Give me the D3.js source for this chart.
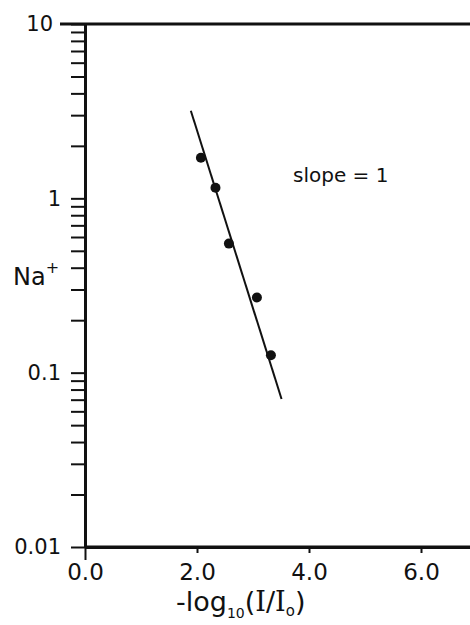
<!DOCTYPE html>
<html lang="en">
<head>
<meta charset="utf-8"/>
<title>Na+ vs -log10(I/Io)</title>
<script src="https://d3js.org/d3.v7.min.js"></script>
<style>
body { margin: 0; background: #fff; }
svg text { font-family: "DejaVu Sans", sans-serif; fill: #111; }
</style>
</head>
<body>
<script>
const absorb = [2.07, 2.33, 2.57, 3.07, 3.32]
const naConc = [1.71, 1.15, 0.55, 0.27, 0.126]

// slope = 1 line, end points
const fitX = [1.89, 3.51]
const fitY = [3.18, 0.0706]

const xTicks = [0, 2, 4, 6]
const xLabels = ["0.0", "2.0", "4.0", "6.0"]
const yMajor = [0.01, 0.1, 1, 10]
const yLabels = ["0.01", "0.1", "1", "10"]

const width = 470, height = 625

const svg = d3.select("body").append("svg")
  .attr("width", width).attr("height", height)

const x = d3.scaleLinear().domain([0, 6.875]).range([85, 470])
const y = d3.scaleLog().domain([0.01, 10]).range([547, 24])

// minor ticks 2..9 of each decade + the majors
let yTickVals = []
yMajor.forEach(d => {
  yTickVals.push(d)
  if (d < 10) for (let k = 2; k <= 9; k++) yTickVals.push(+(d * k).toPrecision(3))
})

const yAxis = svg.append("g")
  .attr("transform", `translate(${x(0)},0)`)
  .call(d3.axisLeft(y).tickValues(yTickVals).tickSize(14).tickSizeOuter(0).tickPadding(10)
    .tickFormat(d => { const i = yMajor.indexOf(d); return i < 0 ? "" : yLabels[i] }))
yAxis.select(".domain").attr("stroke", "#111").attr("stroke-width", 3)
yAxis.selectAll(".tick line").attr("stroke", "#111").attr("stroke-width", 2)
yAxis.selectAll(".tick text").attr("font-size", 21).attr("fill", "#111")
  .attr("dx", d => d === 10 ? -8 : 0)

const xAxis = svg.append("g")
  .attr("transform", `translate(0,${y(0.01)})`)
  .call(d3.axisBottom(x).tickValues(xTicks).tickSize(6).tickSizeOuter(0).tickPadding(10)
    .tickFormat((d, i) => xLabels[i]))
xAxis.select(".domain").attr("stroke", "#111").attr("stroke-width", 3)
xAxis.selectAll(".tick line").attr("stroke", "#111").attr("stroke-width", 2)
  .attr("y2", d => d === 0 ? 13 : 6)
xAxis.selectAll(".tick text").attr("font-size", 23).attr("fill", "#111")
  .attr("dy", "0.75em")

// x axis runs to the right edge
xAxis.append("line")
  .attr("x1", x(0)).attr("x2", width).attr("stroke", "#111").attr("stroke-width", 3)

// top frame line at 10
svg.append("line")
  .attr("x1", 60).attr("x2", width).attr("y1", y(10)).attr("y2", y(10))
  .attr("stroke", "#111").attr("stroke-width", 3)

// fit line
svg.append("line")
  .attr("x1", x(fitX[0])).attr("y1", y(fitY[0]))
  .attr("x2", x(fitX[1])).attr("y2", y(fitY[1]))
  .attr("stroke", "#111").attr("stroke-width", 2)

svg.selectAll("circle.pt").data(absorb).join("circle")
  .attr("class", "pt")
  .attr("cx", d => x(d))
  .attr("cy", (d, i) => y(naConc[i]))
  .attr("r", 5).attr("fill", "#111")

svg.append("text")
  .attr("x", 293).attr("y", 182).attr("font-size", 20)
  .text("slope = 1")

// y label Na+
const yl = svg.append("text").attr("x", 13).attr("y", 285).attr("font-size", 24)
yl.append("tspan").text("Na")
yl.append("tspan").attr("dy", -12).attr("font-size", 16).text("+")

// x title
const serif = "DejaVu Serif, serif"
const xt = svg.append("text").attr("x", 176).attr("y", 611).attr("font-size", 27)
xt.append("tspan").text("-log")
xt.append("tspan").attr("dy", 7).attr("font-size", 14).text("10")
xt.append("tspan").attr("dy", -7).text("(")
xt.append("tspan").attr("font-family", serif).text("I")
xt.append("tspan").text("/")
xt.append("tspan").attr("font-family", serif).text("I")
xt.append("tspan").attr("dy", 5).attr("font-size", 15).text("o")
xt.append("tspan").attr("dy", -5).text(")")
</script>
</body>
</html>
